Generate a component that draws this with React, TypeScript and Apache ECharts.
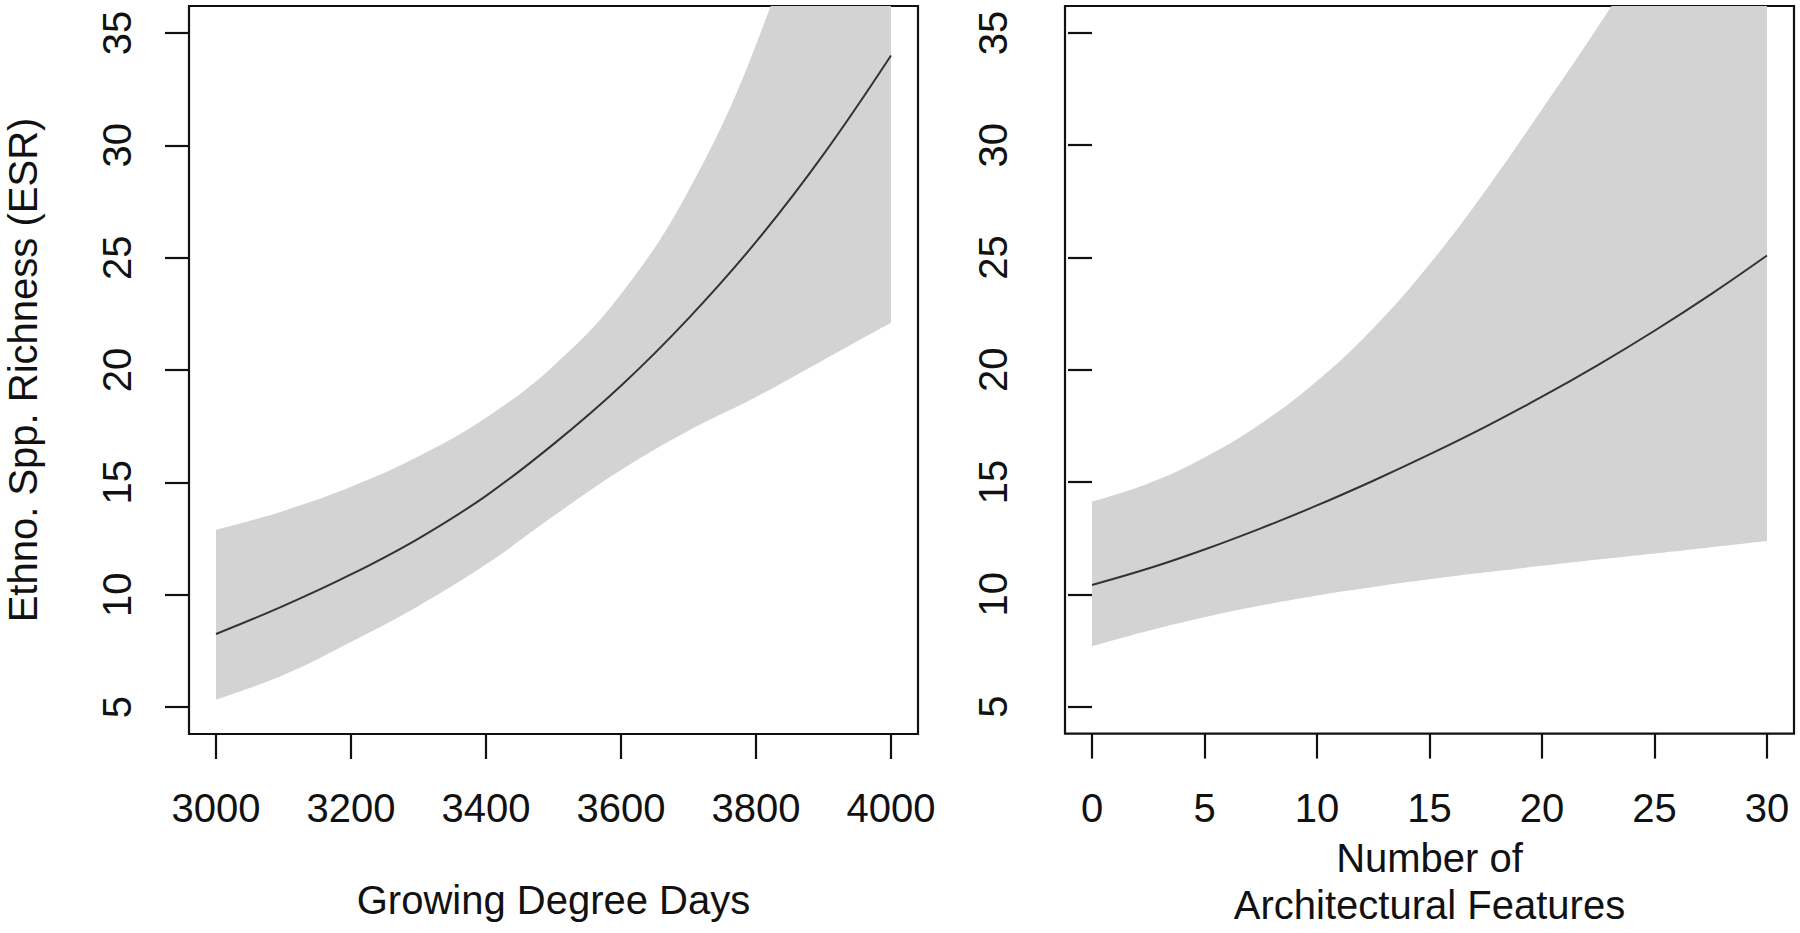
import { useEffect, useRef } from "react";
import * as echarts from "echarts";

// left panel: growing degree days
const gddX = [3000, 3100, 3200, 3300, 3400, 3500, 3600, 3700, 3800, 3900, 4000];
const gddFit = [8.25, 9.5, 10.9, 12.5, 14.4, 16.7, 19.3, 22.3, 25.7, 29.6, 34.0];
const gddLower = [5.33, 6.43, 7.9, 9.5, 11.35, 13.5, 15.55, 17.3, 18.8, 20.45, 22.1];
const gddUpper = [12.88, 13.73, 14.8, 16.16, 17.88, 20.18, 23.38, 27.98, 34.48, 43.5, 55.5];
const gddTicks = [3000, 3200, 3400, 3600, 3800, 4000];

// right panel: number of architectural features
const featX = [0, 2.5, 5, 7.5, 10, 12.5, 15, 17.5, 20, 22.5, 25, 27.5, 30];
const featFit = [10.42, 11.15, 12.0, 12.94, 13.96, 15.06, 16.23, 17.47, 18.8, 20.22, 21.74, 23.36, 25.09];
const featLower = [7.69, 8.38, 8.98, 9.5, 9.95, 10.33, 10.67, 10.98, 11.27, 11.55, 11.82, 12.1, 12.38];
const featUpper = [14.13, 14.94, 16.1, 17.6, 19.5, 21.85, 24.7, 28.0, 31.6, 35.3, 39.2, 43.3, 47.5];
const featTicks = [0, 5, 10, 15, 20, 25, 30];

const yTicks = [5, 10, 15, 20, 25, 30, 35];

const FONT = "'Liberation Sans', Arial, Helvetica, sans-serif";
const INK = "#111111";
const BAND = "#d3d3d3";
// grey band is filled down to GREY_BASE, the white mask a little further so no seam shows
const GREY_BASE = 4.0;
const MASK_BASE = 3.9;

function pairs(xs: number[], ys: number[]) {
  return xs.map((x, i) => [x, ys[i]]);
}

// upper edge filled grey, lower edge filled white on top of it -> grey band between them
function bandSeries(
  idx: number,
  xs: number[],
  lower: number[],
  upper: number[],
  fit: number[],
) {
  const common = {
    type: "line",
    xAxisIndex: idx,
    yAxisIndex: idx,
    symbol: "none",
    smooth: 0.4,
    silent: true,
    clip: true,
  };
  return [
    {
      ...common,
      data: pairs(xs, upper),
      lineStyle: { width: 0, opacity: 0 },
      areaStyle: { color: BAND, opacity: 1, origin: GREY_BASE },
      z: 1,
    },
    {
      ...common,
      data: pairs(xs, lower),
      lineStyle: { width: 0, opacity: 0 },
      areaStyle: { color: "#ffffff", opacity: 1, origin: MASK_BASE },
      z: 2,
    },
    {
      ...common,
      data: pairs(xs, fit),
      lineStyle: { color: "#333333", width: 2 },
      z: 3,
    },
  ];
}

function xAxis(idx: number, min: number, max: number, ticks: number[], name: string, gap: number) {
  return {
    type: "value",
    gridIndex: idx,
    min,
    max,
    name,
    nameLocation: "middle",
    nameGap: gap,
    nameTextStyle: {
      color: INK,
      fontFamily: FONT,
      fontSize: 40,
      lineHeight: 46.7,
      verticalAlign: "top",
    },
    axisLine: { show: false },
    splitLine: { show: false },
    axisTick: {
      show: true,
      length: 25,
      customValues: ticks,
      lineStyle: { color: INK, width: 2.2 },
    },
    axisLabel: {
      customValues: ticks,
      formatter: (v: number) => String(v),
      margin: 54,
      color: INK,
      fontFamily: FONT,
      fontSize: 40,
    },
  };
}

function yAxis(idx: number, name: string) {
  return {
    type: "value",
    gridIndex: idx,
    min: 3.8,
    max: 36.2,
    name,
    nameLocation: "middle",
    nameGap: 146,
    nameTextStyle: {
      color: INK,
      fontFamily: FONT,
      fontSize: 40,
    },
    axisLine: { show: false },
    splitLine: { show: false },
    axisTick: {
      show: true,
      length: 24,
      customValues: yTicks,
      lineStyle: { color: INK, width: 2.2 },
    },
    axisLabel: {
      customValues: yTicks,
      formatter: (v: number) => String(v),
      rotate: 90,
      margin: 52,
      color: INK,
      fontFamily: FONT,
      fontSize: 40,
    },
  };
}

export default function App() {
  const ref = useRef<HTMLDivElement | null>(null);

  useEffect(() => {
    document.body.style.margin = "0";
    const el = ref.current;
    if (!el) {
      return;
    }
    const chart = echarts.init(el, undefined, { renderer: "svg" });

    const frame = {
      top: 6,
      width: 729,
      height: 728,
      show: true,
      borderColor: INK,
      borderWidth: 2.2,
      backgroundColor: "transparent",
    };

    chart.setOption({
      animation: false,
      backgroundColor: "#ffffff",
      grid: [
        { ...frame, left: 189 },
        { ...frame, left: 1065 },
      ],
      xAxis: [
        xAxis(0, 2960, 4040, gddTicks, "Growing Degree Days", 143),
        xAxis(1, -1.2, 31.2, featTicks, "Number of\nArchitectural Features", 101),
      ],
      yAxis: [yAxis(0, "Ethno. Spp. Richness (ESR)"), yAxis(1, "")],
      series: [
        ...bandSeries(0, gddX, gddLower, gddUpper, gddFit),
        ...bandSeries(1, featX, featLower, featUpper, featFit),
      ],
    });

    return () => {
      chart.dispose();
    };
  }, []);

  return (
    <div
      ref={ref}
      style={{ position: "absolute", left: 0, top: 0, width: 1800, height: 933 }}
    />
  );
}
